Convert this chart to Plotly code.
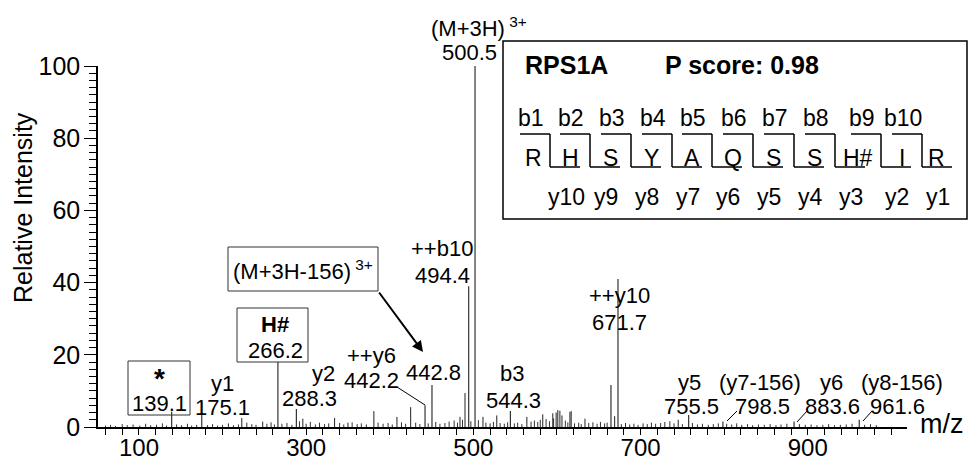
import plotly.graph_objects as go

# ---------------- data ----------------
# labelled / prominent peaks (m/z, relative intensity)
major_mz = [139.1, 175.1, 266.2, 288.3, 442.2, 450.5, 494.4, 502.0, 544.3, 664.6, 673.0,
            757.5, 798.5, 883.6, 961.6]
major_int = [4.2, 7.0, 18.0, 5.0, 6.0, 11.6, 39.0, 100.0, 4.4, 11.6, 41.0,
             3.3, 1.5, 1.5, 2.0]

# smaller visible peaks
minor_mz = [223, 248, 296, 334, 350, 381, 408.6, 425, 484, 490, 511.5, 528, 564, 583,
            595, 599, 601, 603.5, 606, 615.5, 617, 633.5, 669, 745]
minor_int = [2.5, 1.5, 2.3, 2.5, 1.2, 4.4, 2.8, 5.5, 2.8, 9.4, 2.8, 3.2, 2.8, 3.5,
             3.8, 4.0, 4.7, 4.5, 3.2, 4.2, 4.4, 2.3, 3.0, 2.0]

# baseline noise
noise_mz = [60, 66, 72, 80, 86, 93, 101, 108, 114, 121, 128, 133, 145, 151, 158, 163, 169,
            182, 188, 194, 200, 207, 213, 219, 229, 235, 240, 253, 258, 262, 271, 277, 283,
            292, 300, 305, 311, 316, 322, 327, 340, 345, 355, 361, 366, 372, 386, 392, 398,
            403, 414, 419, 431, 436, 446, 455, 460, 466, 471, 477, 481, 487, 497, 506, 515,
            520, 524, 532, 537, 541, 549, 553, 558, 569, 573, 577, 580, 587, 591, 596, 610,
            613, 621, 626, 629, 638, 643, 648, 652, 657, 660, 677, 682, 687, 692, 697, 703,
            708, 713, 718, 724, 729, 735, 740, 750, 762, 768, 774, 781, 787, 793, 803, 809,
            815, 821, 828, 834, 841, 848, 855, 862, 868, 875, 890, 897, 904, 911, 918, 925,
            932, 939, 946, 953, 968, 975, 982]
noise_int = [0.4, 0.6, 0.3, 0.8, 0.5, 0.7, 0.4, 0.9, 0.5, 0.6, 1.0, 0.4, 0.7, 0.5, 0.9, 0.4, 0.6,
             0.5, 0.8, 0.4, 0.6, 1.0, 0.5, 0.7, 1.2, 0.8, 0.6, 0.9, 1.3, 0.7, 0.9, 1.1, 0.6,
             1.6, 0.9, 1.4, 0.7, 1.2, 0.8, 1.0, 1.1, 0.7, 1.3, 0.8, 1.0, 0.7, 1.2, 0.9, 1.1,
             0.7, 1.3, 0.9, 1.2, 0.8, 1.0, 1.4, 0.9, 1.1, 1.5, 1.8, 1.2, 2.0, 1.6, 1.9, 1.2,
             1.0, 1.4, 1.1, 0.9, 1.3, 1.0, 1.2, 0.8, 1.5, 1.8, 1.4, 2.0, 2.2, 1.6, 2.4, 1.8,
             1.3, 1.0, 1.2, 0.8, 1.1, 1.3, 0.9, 1.4, 1.0, 1.2, 0.8, 1.1, 0.7, 0.9, 0.6, 1.0,
             0.8, 1.2, 0.9, 1.1, 1.4, 1.6, 1.0, 0.8, 1.1, 0.7, 0.9, 0.6, 0.8, 1.0, 0.9, 0.7,
             1.0, 0.6, 0.8, 0.5, 0.7, 0.6, 0.8, 0.5, 0.7, 0.9, 0.8, 0.6, 0.7, 0.5, 0.6, 0.8,
             0.5, 0.6, 0.7, 0.9, 0.6, 0.8, 0.5]

residues = ["R", "H", "S", "Y", "A", "Q", "S", "S", "H#", "I", "R"]
b_labels = ["b1", "b2", "b3", "b4", "b5", "b6", "b7", "b8", "b9", "b10"]
y_labels = ["y10", "y9", "y8", "y7", "y6", "y5", "y4", "y3", "y2", "y1"]

x_ticks = [100, 300, 500, 700, 900]
y_ticks = [0, 20, 40, 60, 80, 100]

# ---------------- layout helpers (pixel -> paper) ----------------
W, H = 969, 460
L, R, T, B = 98, 907, 66, 427
def px(x):
    return (x - L) / (R - L)
def py(y):
    return (B - y) / (B - T)

FONT = "Arial, Liberation Sans, sans-serif"

def stems(xs, ys):
    sx, sy = [], []
    for x, y in zip(xs, ys):
        sx += [x, x, None]
        sy += [0, y, None]
    return sx, sy

fig = go.Figure()
for xs, ys, col, w in [(noise_mz, noise_int, "#333333", 1),
                       (minor_mz, minor_int, "#222222", 1),
                       (major_mz, major_int, "#333333", 1.2)]:
    sx, sy = stems(xs, ys)
    fig.add_trace(go.Scatter(x=sx, y=sy, mode="lines",
                             line=dict(color=col, width=w),
                             hoverinfo="skip", showlegend=False))

ann = []
shapes = []

def text(x, y, s, size=22, anchor="center", bold=False):
    ann.append(dict(x=px(x), y=py(y), xref="paper", yref="paper", text=("<b>%s</b>" % s) if bold else s,
                    showarrow=False, xanchor=anchor, yanchor="middle",
                    font=dict(family=FONT, size=size, color="black")))

def line(x0, y0, x1, y1, w=1, col="black"):
    shapes.append(dict(type="line", xref="paper", yref="paper",
                       x0=px(x0), y0=py(y0), x1=px(x1), y1=py(y1),
                       line=dict(color=col, width=w)))

def rect(x0, y0, x1, y1, w=1, col="#333333"):
    shapes.append(dict(type="rect", xref="paper", yref="paper",
                       x0=px(x0), y0=py(y0), x1=px(x1), y1=py(y1),
                       line=dict(color=col, width=w)))

# peak labels
rect(128, 361, 190, 415)
text(159, 378, "*", size=28, bold=True)
text(159, 403, "139.1")
text(222, 383, "y1"); text(222, 407, "175.1")
rect(237, 308, 308, 362)
text(275, 324, "H#", bold=True)
text(275, 350, "266.2")
text(323, 373, "y2"); text(309, 398, "288.3")
text(371, 355, "++y6"); text(371, 380, "442.2")
line(397, 387, 425, 405)
text(433, 372, "442.8")
rect(228, 247, 378, 291)
text(303, 270, "(M+3H-156)<sup> 3+</sup>")
ann.append(dict(x=px(423), y=py(352), xref="paper", yref="paper", text="",
                showarrow=True, ax=378 - 423, ay=291 - 352, axref="pixel", ayref="pixel",
                arrowhead=2, arrowsize=1.1, arrowwidth=2, arrowcolor="black"))
text(442, 248, "++b10"); text(442, 275, "494.4")
text(429, 27, "(M+3H)<sup> 3+</sup>", anchor="left")
text(469, 53, "500.5")
text(512, 373, "b3"); text(513, 400, "544.3")
text(619, 295, "++y10"); text(619, 322, "671.7")
text(689, 382, "y5"); text(691, 406, "755.5")
text(760, 382, "(y7-156)"); text(762, 406, "798.5")
line(737, 411, 727, 421)
text(831, 382, "y6"); text(832, 406, "883.6")
line(807, 411, 797, 422)
text(902, 382, "(y8-156)"); text(897, 406, "961.6")
line(872, 411, 863, 421)

# axis labels
text(942, 424, "m/z", size=27)
ann.append(dict(x=px(23), y=py(208), xref="paper", yref="paper", text="Relative Intensity",
                textangle=-90, showarrow=False, xanchor="center", yanchor="middle",
                font=dict(family=FONT, size=25, color="black")))

# inset
rect(503, 41, 967, 219, w=1.5, col="black")
text(523, 65, "RPS1A", size=25, anchor="left", bold=True)
text(663, 65, "P score: 0.98", size=25, anchor="left", bold=True)
cleave = [550, 590, 631, 672, 712, 753, 794, 835, 881, 922]
for i, c in enumerate(cleave):
    line(c - 30, 134, c, 134, w=1.5)
    line(c, 134, c, 167, w=1.5)
    line(c, 167, c + 30, 167, w=1.5)
    text(c - 19, 118, b_labels[i], size=23)
    text(c + 16, 197, y_labels[i], size=23)
edges = [514] + cleave + [956]
for i, r in enumerate(residues):
    cx = (edges[i] + edges[i + 1]) / 2
    if i == 0:
        cx = 533
    if i == len(residues) - 1:
        cx = 936
    text(cx, 158, r, size=23)

fig.update_layout(
    width=W, height=H,
    margin=dict(l=L, r=W - R, t=T, b=H - B, pad=0, autoexpand=False),
    paper_bgcolor="white", plot_bgcolor="white",
    font=dict(family=FONT, size=24, color="black"),
    annotations=ann, shapes=shapes,
    xaxis=dict(range=[51, 1018.7], showgrid=False, zeroline=False, automargin=False,
               showline=True, linecolor="black", linewidth=1.5,
               tickmode="array", tickvals=x_ticks, ticktext=[str(v) for v in x_ticks],
               ticks="outside", ticklen=6, tickwidth=1, tickcolor="black",
               tickfont=dict(size=24), ticklabelstandoff=-8,
               minor=dict(dtick=20, tick0=0, ticks="outside", ticklen=6, tickwidth=1,
                          tickcolor="black", showgrid=False)),
    yaxis=dict(range=[0, 100], showgrid=False, zeroline=False, automargin=False,
               showline=True, linecolor="black", linewidth=1.5,
               tickmode="array", tickvals=y_ticks, ticktext=[str(v) for v in y_ticks],
               ticks="outside", ticklen=12, tickwidth=1, tickcolor="black",
               tickfont=dict(size=25), ticklabelstandoff=-1,
               minor=dict(dtick=2, tick0=0, ticks="outside", ticklen=7, tickwidth=1,
                          tickcolor="black", showgrid=False)),
)

fig.write_html("out.html", config={"displayModeBar": False},
               post_script="document.body.style.margin='0';document.body.style.overflow='hidden';")
